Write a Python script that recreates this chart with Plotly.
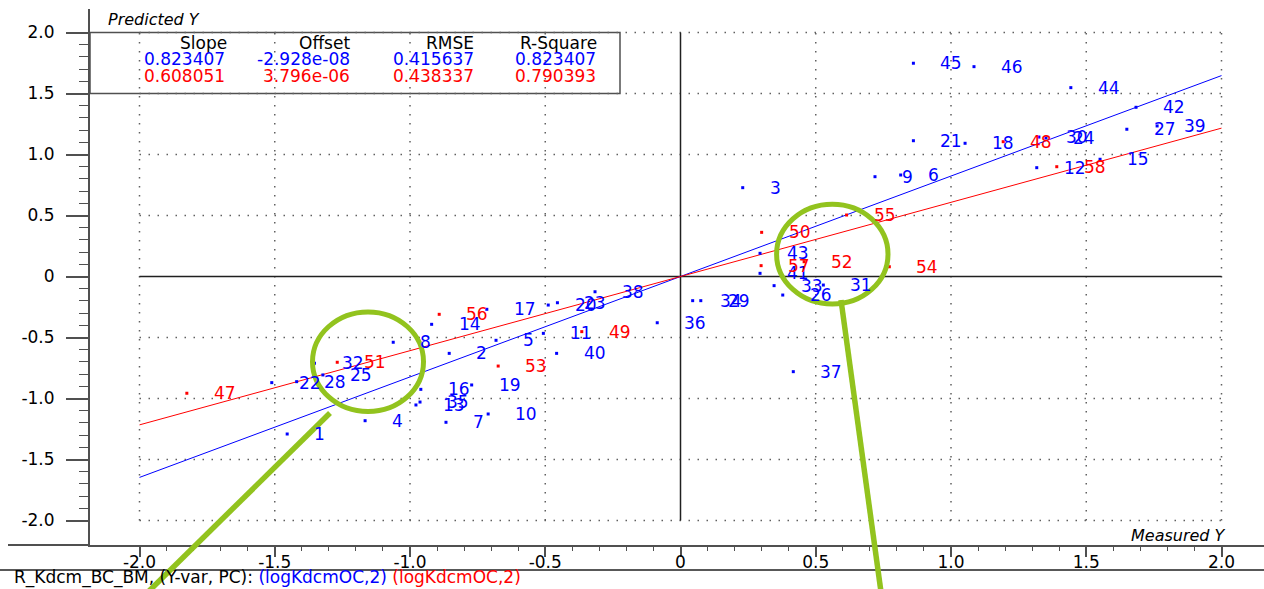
import plotly.graph_objects as go

# ---------------- data ----------------
blue_ids = [str(i) for i in range(1, 47)]
blue_x = [-1.454, -0.855, 0.230, -1.166, -0.682, 0.814, -0.867, -1.062, 0.719, -0.711,
          -0.507, 1.317, -0.978, -0.920, 1.551, -0.960, -0.716, 1.052, -0.772, -0.489,
          0.861, -1.511, -0.455, 1.351, -1.322, 0.378, 1.650, -1.419, 0.075, 1.325,
          0.528, -1.353, 0.346, 0.045, -0.963, -0.086, 0.417, -0.316, 1.762, -0.458,
          0.294, 1.684, 0.294, 1.443, 0.861, 1.085]
blue_y = [-1.291, -0.630, 0.728, -1.182, -0.523, 0.832, -1.195, -0.539, 0.818, -1.127,
          -0.466, 0.892, -1.053, -0.392, 0.961, -0.925, -0.269, 1.092, -0.889, -0.234,
          1.113, -0.870, -0.215, 1.135, -0.807, -0.152, 1.207, -0.862, -0.198, 1.143,
          -0.070, -0.711, -0.075, -0.198, -1.029, -0.379, -0.780, -0.125, 1.234, -0.630,
          0.026, 1.387, 0.190, 1.548, 1.748, 1.720]

red_ids = [str(i) for i in range(47, 59)]
red_x = [-1.825, 1.193, -0.365, 0.300, -1.269, 0.457, -0.674, 0.772, 0.614, -0.892, 0.298, 1.391]
red_y = [-0.957, 1.105, -0.452, 0.362, -0.703, 0.121, -0.734, 0.080, 0.504, -0.310, 0.089, 0.900]

stat_headers = ["Slope", "Offset", "RMSE", "R-Square"]
blue_stats = ["0.823407", "-2.928e-08", "0.415637", "0.823407"]
red_stats = ["0.608051", "3.796e-06", "0.438337", "0.790393"]
blue_slope, blue_offset = 0.823407, -2.928e-08
red_slope, red_offset = 0.608051, 3.796e-06

tick_vals = [-2.0, -1.5, -1.0, -0.5, 0.0, 0.5, 1.0, 1.5, 2.0]
tick_text = ["-2.0", "-1.5", "-1.0", "-0.5", "0", "0.5", "1.0", "1.5", "2.0"]
minor_vals = [round(-2.0 + 0.1 * i, 1) for i in range(41) if i % 5 != 0]

x_label = "Measured Y"
y_label = "Predicted Y"
caption_black = "R_Kdcm_BC_BM, (Y-var, PC): "
caption_blue = "(logKdcmOC,2)"
caption_red = "(logKdcmOC,2)"

# ---------------- styling / geometry ----------------
W, H = 1264, 589
ML, MT, MB = 90, 9, 44
PW, PH = W - ML, H - MT - MB
X0PIX, XSCALE = 680.5, 270.5
Y0PIX, YSCALE = 276.5, 122.0
FONT = "DejaVu Sans"
FS = 17
BLUE, RED, GREEN = "#0000ff", "#ff0000", "#92c31e"
AXC = "#505050"


def pxx(p):
    return (p - ML) / PW


def pxy(p):
    return (MT + PH - p) / PH


x_range = [(ML - X0PIX) / XSCALE, (W - X0PIX) / XSCALE]
y_range = [(Y0PIX - (MT + PH)) / YSCALE, (Y0PIX - MT) / YSCALE]

fig = go.Figure()

# regression lines
line_x = [tick_vals[0], tick_vals[-1]]
fig.add_trace(go.Scatter(x=line_x, y=[blue_slope * v + blue_offset for v in line_x],
                         mode="lines", line=dict(color=BLUE, width=1), hoverinfo="skip"))
fig.add_trace(go.Scatter(x=line_x, y=[red_slope * v + red_offset for v in line_x],
                         mode="lines", line=dict(color=RED, width=1), hoverinfo="skip"))

# points
fig.add_trace(go.Scatter(x=blue_x, y=blue_y, mode="markers",
                         marker=dict(color=BLUE, size=3, symbol="square", line=dict(width=0))))
fig.add_trace(go.Scatter(x=red_x, y=red_y, mode="markers",
                         marker=dict(color=RED, size=3, symbol="square", line=dict(width=0))))

shapes = []
dot = dict(color="#606060", width=1.5, dash="1.5px,7.5px")
for v in tick_vals:
    if v == 0:
        continue
    shapes.append(dict(type="line", xref="x", yref="y", x0=v, x1=v,
                       y0=tick_vals[0], y1=tick_vals[-1], line=dot, layer="below"))
    shapes.append(dict(type="line", xref="x", yref="y", y0=v, y1=v,
                       x0=tick_vals[0], x1=tick_vals[-1], line=dot, layer="below"))
# crosshair
shapes.append(dict(type="line", xref="x", yref="y", x0=0, x1=0, y0=tick_vals[0], y1=tick_vals[-1],
                   line=dict(color="#202020", width=1.5), layer="below"))
shapes.append(dict(type="line", xref="x", yref="y", y0=0, y1=0, x0=tick_vals[0], x1=tick_vals[-1],
                   line=dict(color="#202020", width=1.5), layer="below"))
# stats box
shapes.append(dict(type="rect", xref="paper", yref="y", x0=0, x1=pxx(620), y0=1.5, y1=2.0,
                   fillcolor="white", line=dict(color=AXC, width=1.5), layer="below"))
# x axis line extension to the left and caption separator
shapes.append(dict(type="line", xref="paper", yref="paper", x0=pxx(8), x1=0, y0=0, y1=0,
                   line=dict(color=AXC, width=2)))
shapes.append(dict(type="line", xref="paper", yref="paper", x0=pxx(0), x1=pxx(W), y0=pxy(570), y1=pxy(570),
                   line=dict(color="#202020", width=1.5)))
# green highlight circles and pointer lines
shapes.append(dict(type="circle", xref="paper", yref="paper", x0=pxx(312.5), x1=pxx(423.5),
                   y0=pxy(411.5), y1=pxy(311.9), line=dict(color=GREEN, width=5)))
shapes.append(dict(type="circle", xref="paper", yref="paper", x0=pxx(776.6), x1=pxx(888),
                   y0=pxy(304.1), y1=pxy(204.3), line=dict(color=GREEN, width=5)))
shapes.append(dict(type="line", xref="paper", yref="paper", x0=pxx(330), y0=pxy(413),
                   x1=pxx(148), y1=pxy(592), line=dict(color=GREEN, width=5.5)))
shapes.append(dict(type="line", xref="paper", yref="paper", x0=pxx(841), y0=pxy(300),
                   x1=pxx(881), y1=pxy(592), line=dict(color=GREEN, width=5.5)))

annotations = []
# point labels
for ids, xs, ys, col in ((blue_ids, blue_x, blue_y, BLUE), (red_ids, red_x, red_y, RED)):
    for t, xv, yv in zip(ids, xs, ys):
        annotations.append(dict(x=xv, y=yv, xref="x", yref="y", text=t, showarrow=False,
                                xanchor="left", yanchor="middle", xshift=25,
                                font=dict(family=FONT, size=FS, color=col)))
# stats table
col_right_hdr = [229.4, 351.8, 475.5, 599.0]
col_right_val = [226.5, 351.8, 475.5, 598.0]
row_y = [42.7, 59.3, 76.0]
for i in range(4):
    annotations.append(dict(x=pxx(col_right_hdr[i]), y=pxy(row_y[0]), xref="paper", yref="paper",
                            text=stat_headers[i], showarrow=False, xanchor="right", yanchor="middle",
                            font=dict(family=FONT, size=FS, color="black")))
    annotations.append(dict(x=pxx(col_right_val[i]), y=pxy(row_y[1]), xref="paper", yref="paper",
                            text=blue_stats[i], showarrow=False, xanchor="right", yanchor="middle",
                            font=dict(family=FONT, size=FS, color=BLUE)))
    annotations.append(dict(x=pxx(col_right_val[i]), y=pxy(row_y[2]), xref="paper", yref="paper",
                            text=red_stats[i], showarrow=False, xanchor="right", yanchor="middle",
                            font=dict(family=FONT, size=FS, color=RED)))
# axis titles
annotations.append(dict(x=pxx(106), y=pxy(19), xref="paper", yref="paper", text=y_label,
                        showarrow=False, xanchor="left", yanchor="middle",
                        font=dict(family=FONT, size=16, color="black", style="italic")))
annotations.append(dict(x=pxx(1228), y=pxy(535), xref="paper", yref="paper", text=x_label,
                        showarrow=False, xanchor="right", yanchor="middle",
                        font=dict(family=FONT, size=16, color="black", style="italic")))
# caption
annotations.append(dict(x=pxx(12), y=pxy(577.5), xref="paper", yref="paper",
                        text=(caption_black + f'<span style="color:{BLUE}">{caption_blue}</span> '
                              f'<span style="color:{RED}">{caption_red}</span>'),
                        showarrow=False, xanchor="left", yanchor="middle",
                        font=dict(family=FONT, size=17, color="black")))

tickfont = dict(family=FONT, size=FS, color="black")
fig.update_layout(
    width=W, height=H, margin=dict(l=ML, r=0, t=MT, b=MB, pad=0),
    paper_bgcolor="white", plot_bgcolor="white", showlegend=False,
    shapes=shapes, annotations=annotations,
    xaxis=dict(range=x_range, showgrid=False, zeroline=False, showline=True, linecolor=AXC,
               linewidth=2, ticks="outside", ticklen=10, tickwidth=1.5, tickcolor=AXC,
               tickmode="array", tickvals=tick_vals, ticktext=tick_text, tickfont=tickfont,
               ticklabelstandoff=-9,
               minor=dict(tickmode="array", tickvals=minor_vals, ticks="outside", ticklen=4,
                          tickwidth=1, tickcolor=AXC, showgrid=False)),
    yaxis=dict(range=y_range, showgrid=False, zeroline=False, showline=True, linecolor=AXC,
               linewidth=2, ticks="outside", ticklen=22, tickwidth=1.5, tickcolor=AXC,
               tickmode="array", tickvals=tick_vals, ticktext=tick_text, tickfont=tickfont,
               ticklabelstandoff=8,
               minor=dict(tickmode="array", tickvals=minor_vals, ticks="outside", ticklen=9,
                          tickwidth=1, tickcolor=AXC, showgrid=False)),
)

fig.write_html("out.html", config={"displayModeBar": False},
               post_script="document.body.style.margin='0';")
